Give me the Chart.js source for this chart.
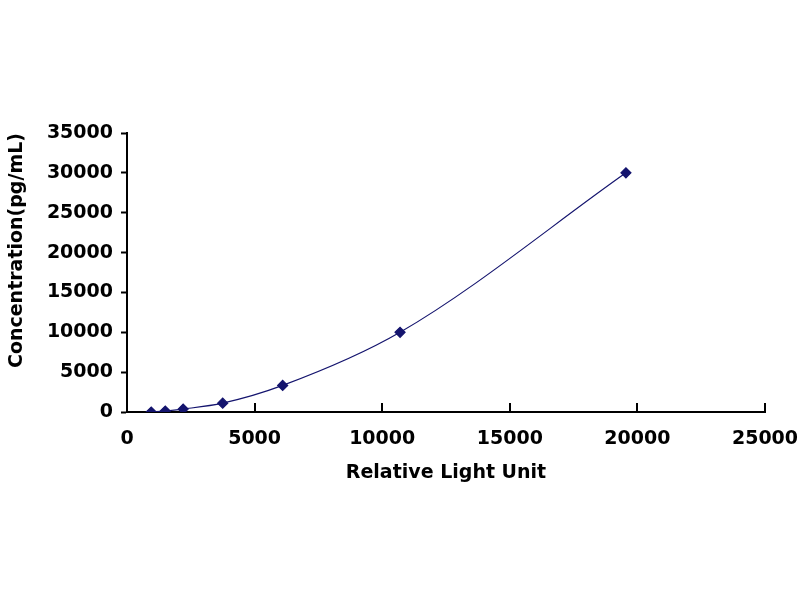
<!DOCTYPE html>
<html>
<head>
<meta charset="utf-8">
<script src="https://cdn.jsdelivr.net/npm/chart.js@4"></script>
<style>
  html, body { margin: 0; padding: 0; background: #fff; }
  #curve { display: block; }
</style>
</head>
<body>
<canvas id="curve" width="800" height="600"></canvas>
<script>
// standard curve points
var lightUnits = [950, 1500, 2200, 3750, 6100, 10700, 19550];
var concentrations = [0, 123, 370, 1111, 3333, 10000, 30000];
var xTicks = [0, 5000, 10000, 15000, 20000, 25000];
var yTicks = [0, 5000, 10000, 15000, 20000, 25000, 30000, 35000];

var navy = '#14146e';
var tickFont = { family: 'DejaVu Sans', weight: 'bold', size: 19 };

function points() {
  return lightUnits.map((x, i) => ({ x: x, y: concentrations[i] }));
}

function plain(v) {
  return String(v);
}

// excel-style x ticks that point up into the plot
var innerTicks = {
  id: 'innerTicks',
  afterDraw(chart) {
    var ctx = chart.ctx;
    var xs = chart.scales.x;
    ctx.save();
    ctx.strokeStyle = '#000';
    ctx.lineWidth = 2;
    xTicks.forEach((v) => {
      var px = Math.round(xs.getPixelForValue(v));
      ctx.beginPath();
      ctx.moveTo(px, xs.top);
      ctx.lineTo(px, xs.top - 9);
      ctx.stroke();
    });
    ctx.restore();
  }
};

new Chart(document.getElementById('curve'), {
  type: 'scatter',
  data: {
    datasets: [{
      data: points(),
      showLine: true,
      borderColor: navy,
      borderWidth: 1.2,
      cubicInterpolationMode: 'monotone',
      pointStyle: 'rectRot',
      pointRadius: 5,
      pointBackgroundColor: navy,
      pointBorderColor: navy
    }]
  },
  options: {
    responsive: false,
    devicePixelRatio: 1,
    animation: false,
    layout: { padding: { top: 133, right: 35, bottom: 113, left: 0 } },
    plugins: {
      legend: { display: false },
      tooltip: { enabled: false }
    },
    scales: {
      x: {
        type: 'linear',
        min: 0,
        max: 25000,
        afterBuildTicks: (s) => { s.ticks = xTicks.map((v) => ({ value: v })); },
        afterFit: (s) => { s.height = 75; s.paddingLeft = 0; s.paddingRight = 0; },
        grid: { display: true, drawOnChartArea: false, drawTicks: false },
        border: { color: '#000', width: 2 },
        ticks: { color: '#000', font: tickFont, padding: 16, maxRotation: 0, callback: plain },
        title: {
          display: true,
          text: 'Relative Light Unit',
          color: '#000',
          font: tickFont,
          padding: { top: 4, bottom: 3 }
        }
      },
      y: {
        type: 'linear',
        min: 0,
        max: 35000,
        afterBuildTicks: (s) => { s.ticks = yTicks.map((v) => ({ value: v })); },
        afterFit: (s) => { s.width = 127; s.paddingTop = 0; s.paddingBottom = 0; },
        grid: { display: true, drawOnChartArea: false, tickLength: 6, tickColor: '#000', tickWidth: 2 },
        border: { color: '#000', width: 2 },
        ticks: { color: '#000', font: tickFont, padding: 8, callback: plain },
        title: {
          display: true,
          text: 'Concentration(pg/mL)',
          color: '#000',
          font: tickFont,
          align: 'end',
          padding: { top: 6, bottom: 4 }
        }
      }
    }
  },
  plugins: [innerTicks]
});
</script>
</body>
</html>
